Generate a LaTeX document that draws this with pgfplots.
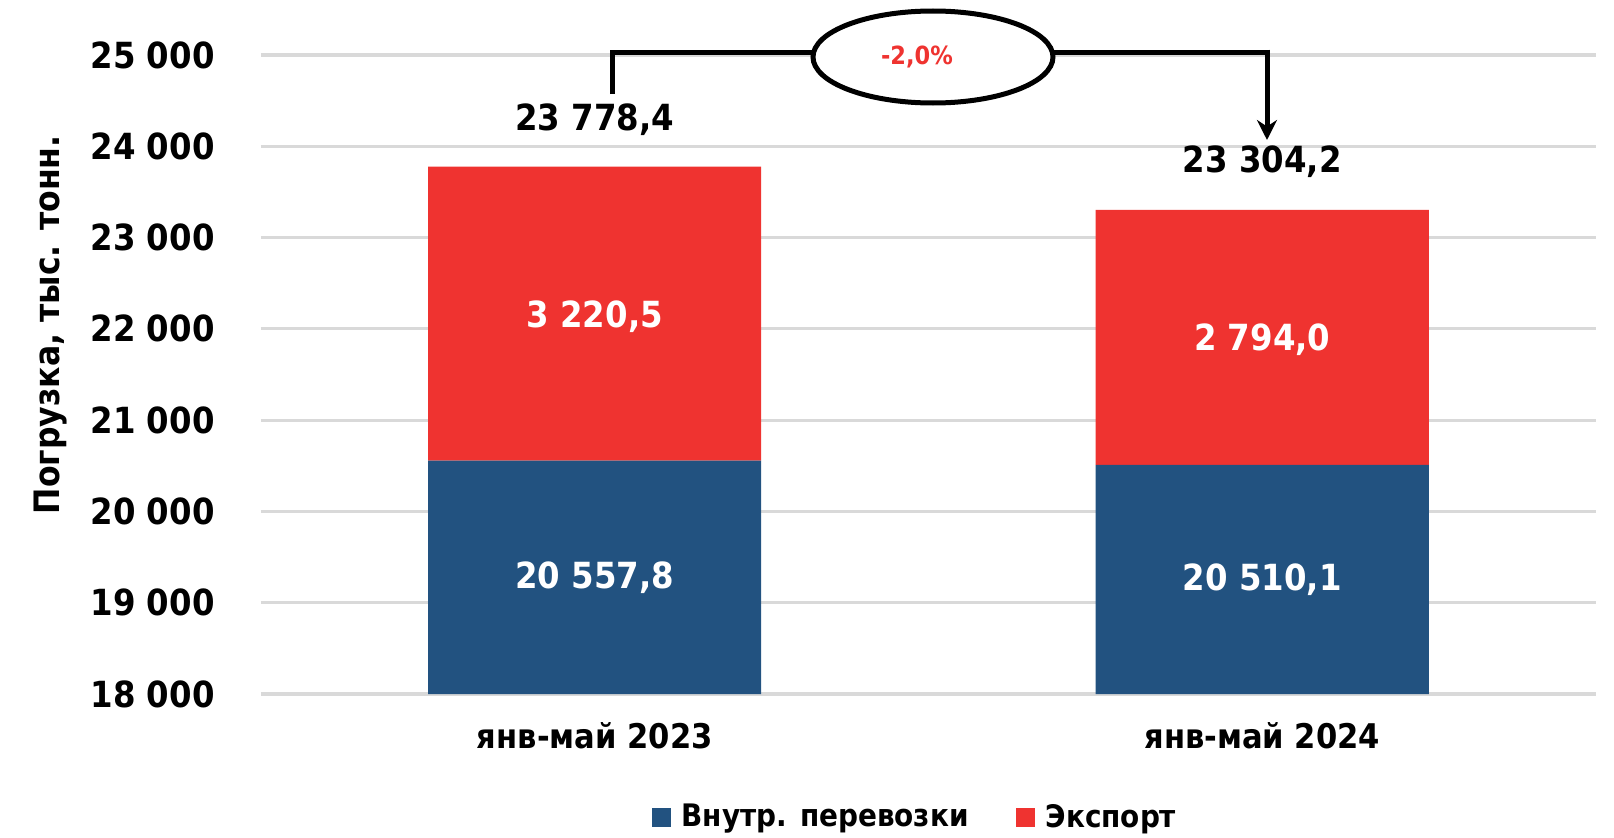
\documentclass[border=0pt]{standalone}
\usepackage{pgfplots}
\pgfplotsset{compat=1.18}
\usepackage{fontspec}
\setmainfont{DejaVu Sans Condensed}
\usetikzlibrary{arrows.meta}
\definecolor{cblue}{RGB}{34,82,128}
\definecolor{cred}{RGB}{239,51,48}
\definecolor{cgrid}{RGB}{217,217,217}
\begin{document}
\begin{tikzpicture}[x=1pt,y=1pt]
\path[use as bounding box] (-130.5,-71.5) rectangle (676.5,347);
\begin{pgfinterruptboundingbox}
\begin{axis}[
  at={(0,0)}, anchor=south west,
  scale only axis, width=667.5pt, height=319.5pt,
  ybar stacked, bar width=166.5pt,
  xmin=-0.5, xmax=1.5,
  ymin=18000, ymax=25000,
  ytick={18000,19000,...,25000},
  scaled y ticks=false,
  /pgf/number format/1000 sep={\ },
  /pgf/number format/fixed,
  /pgf/number format/assume math mode=true,
  xtick=data, xticklabels={янв-май 2023, янв-май 2024},
  ymajorgrids, grid style={cgrid, line width=1.6pt},
  axis line style={draw=none}, major tick length=0pt,
  yticklabel style={font=\bfseries\fontsize{18}{20}\selectfont, anchor=east, inner sep=0pt, xshift=-23pt},
  xticklabel style={font=\bfseries\fontsize{17}{19}\selectfont, anchor=center, inner sep=0pt, yshift=-21pt},
  ylabel={\bfseries Погрузка, тыс. тонн.},
  ylabel style={font=\fontsize{17.5}{19}\selectfont, at={(axis description cs:-0.1575,0.578)}, anchor=center},
  legend style={at={(0.4906,-0.1925)}, anchor=center, draw=none, legend columns=2,
    font=\bfseries\fontsize{15.5}{17}\selectfont,
    /tikz/every odd column/.append style={column sep=3.5pt},
    /tikz/every even column/.append style={column sep=21.5pt}},
  legend image code/.code={\fill[#1] (0pt,-4.75pt) rectangle (9.5pt,4.75pt);},
]
\addplot[fill=cblue, draw=none] coordinates {(0,20557.8) (1,20510.1)};
\addlegendentry{Внутр. перевозки}
\addplot[fill=cred, draw=none] coordinates {(0,3220.5) (1,2794.0)};
\addlegendentry{Экспорт}
\coordinate (b0) at (axis cs:0,19279);
\coordinate (b1) at (axis cs:1,19255);
\coordinate (r0) at (axis cs:0,22130);
\coordinate (r1) at (axis cs:1,21880);
\coordinate (t0) at (axis cs:0,24287);
\coordinate (t1) at (axis cs:1,23830);
\end{axis}
\end{pgfinterruptboundingbox}
\begin{scope}[every node/.style={font=\bfseries\fontsize{18}{20}\selectfont}]
\node[white] at (b0) {20 557,8};
\node[white] at (b1) {20 510,1};
\node[white] at (r0) {3 220,5};
\node[white] at (r1) {2 794,0};
\node[black] at (t0) {23 778,4};
\node[black] at (t1) {23 304,2};
\end{scope}
\draw[line width=2.5pt] (176,300) -- (176,321) -- (503,321);
\draw[line width=2.5pt, -{Stealth[length=10pt,width=10pt]}] (503,322.2) -- (503,277);
\draw[line width=2.5pt, fill=white] (336,318.5) ellipse (60pt and 23pt);
\node[cred, font=\bfseries\fontsize{12.5}{14}\selectfont] at (328,318.5) {-2,0\%};
\end{tikzpicture}
\end{document}
